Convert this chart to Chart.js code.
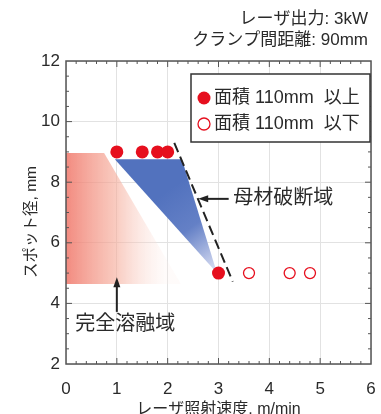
<!DOCTYPE html>
<html>
<head>
<meta charset="utf-8">
<script src="https://cdn.jsdelivr.net/npm/chart.js@4.4.0/dist/chart.umd.min.js"></script>
<style>
  html, body { margin: 0; padding: 0; background: #fff; }
  #wrap { width: 381px; height: 414px; }
</style>
</head>
<body>
<div id="wrap"><canvas id="chart"></canvas></div>
<script>
var titleLines = ['レーザ出力: 3kW', 'クランプ間距離: 90mm'];
var xTitle = 'レーザ照射速度, m/min';
var yTitle = 'スポット径, mm';
var xTicks = [0, 1, 2, 3, 4, 5, 6];
var yTicks = [2, 4, 6, 8, 10, 12];

// welded spots, joint area 110mm2 or more / less
var aboveX = [1.0, 1.5, 1.8, 2.0, 3.0];
var aboveY = [9, 9, 9, 9, 5];
var belowX = [3.6, 4.4, 4.8];
var belowY = [5, 5, 5];
var legendLabels = ['面積 110mm  以上', '面積 110mm  以下'];

// boundary of base metal fracture (dashed)
var limitX = [2.13, 3.28];
var limitY = [9.3, 4.72];

// shaded zones
var meltX = [0, 0.75, 2.26, 0];
var meltY = [8.96, 8.96, 4.64, 4.64];
var fractureX = [0.96, 2.28, 2.97];
var fractureY = [8.76, 8.76, 5.0];
var zoneLabels = ['母材破断域', '完全溶融域'];

var RED = '#e60f1e';
var INK = '#2a2a2a';
var FONT = "'Liberation Sans', 'Noto Sans CJK JP', sans-serif";

function pts(xs, ys) {
  return xs.map(function (x, i) { return { x: x, y: ys[i] }; });
}

function arrow(ctx, x1, y1, x2, y2) {
  // line from (x1,y1) with head at (x2,y2)
  var a = Math.atan2(y2 - y1, x2 - x1);
  ctx.beginPath();
  ctx.moveTo(x1, y1);
  ctx.lineTo(x2 - 6 * Math.cos(a), y2 - 6 * Math.sin(a));
  ctx.stroke();
  ctx.beginPath();
  ctx.moveTo(x2, y2);
  ctx.lineTo(x2 - 10 * Math.cos(a) + 3.5 * Math.sin(a), y2 - 10 * Math.sin(a) - 3.5 * Math.cos(a));
  ctx.lineTo(x2 - 10 * Math.cos(a) - 3.5 * Math.sin(a), y2 - 10 * Math.sin(a) + 3.5 * Math.cos(a));
  ctx.closePath();
  ctx.fill();
}

var decor = {
  id: 'decor',
  beforeDatasetsDraw: function (chart) {
    var ctx = chart.ctx, sx = chart.scales.x, sy = chart.scales.y;
    ctx.save();
    // red zone (full melt)
    var g = ctx.createLinearGradient(sx.getPixelForValue(0), 0, sx.getPixelForValue(1.95), 0);
    g.addColorStop(0, 'rgba(240,118,105,0.85)');
    g.addColorStop(0.5, 'rgba(245,170,152,0.62)');
    g.addColorStop(1, 'rgba(252,235,230,0.2)');
    ctx.fillStyle = g;
    ctx.beginPath();
    meltX.forEach(function (x, i) {
      ctx[i ? 'lineTo' : 'moveTo'](sx.getPixelForValue(x), sy.getPixelForValue(meltY[i]));
    });
    ctx.closePath();
    ctx.fill();
    // blue zone (base metal fracture)
    var b = ctx.createLinearGradient(sx.getPixelForValue(1.9), sy.getPixelForValue(7.6),
                                     sx.getPixelForValue(3.0), sy.getPixelForValue(5.0));
    b.addColorStop(0, 'rgba(82,114,190,1)');
    b.addColorStop(0.45, 'rgba(100,128,198,1)');
    b.addColorStop(1, 'rgba(226,229,246,1)');
    ctx.fillStyle = b;
    ctx.beginPath();
    fractureX.forEach(function (x, i) {
      ctx[i ? 'lineTo' : 'moveTo'](sx.getPixelForValue(x), sy.getPixelForValue(fractureY[i]));
    });
    ctx.closePath();
    ctx.fill();
    ctx.restore();
  },
  afterDraw: function (chart) {
    var ctx = chart.ctx, sx = chart.scales.x, sy = chart.scales.y, a = chart.chartArea;
    ctx.save();
    // frame and inward ticks
    ctx.strokeStyle = '#555';
    ctx.lineWidth = 1.5;
    ctx.strokeRect(a.left, a.top, a.right - a.left, a.bottom - a.top);
    ctx.lineWidth = 1;
    ctx.beginPath();
    for (var i = 1; i < 30; i++) {
      var px = sx.getPixelForValue(i / 5), len = i % 5 ? 3 : 6;
      ctx.moveTo(px, a.bottom); ctx.lineTo(px, a.bottom - len);
      ctx.moveTo(px, a.top); ctx.lineTo(px, a.top + len);
    }
    for (var j = 1; j < 20; j++) {
      var py = sy.getPixelForValue(2 + j / 2), l2 = j % 4 ? 3 : 6;
      ctx.moveTo(a.left, py); ctx.lineTo(a.left + l2, py);
      ctx.moveTo(a.right, py); ctx.lineTo(a.right - l2, py);
    }
    ctx.stroke();

    // header
    ctx.fillStyle = INK;
    ctx.font = '17px ' + FONT;
    ctx.textAlign = 'right';
    ctx.textBaseline = 'middle';
    ctx.fillText(titleLines[0], 368, 19);
    ctx.fillText(titleLines[1], 368, 40);

    // axis titles
    ctx.textAlign = 'center';
    ctx.font = '16px ' + FONT;
    ctx.fillText(xTitle, (a.left + a.right) / 2, 410);
    ctx.save();
    ctx.translate(32, 222);
    ctx.rotate(-Math.PI / 2);
    ctx.font = '15.5px ' + FONT;
    ctx.fillText(yTitle, 0, 0);
    ctx.restore();

    // legend
    ctx.strokeStyle = '#333';
    ctx.lineWidth = 1.5;
    ctx.fillStyle = '#fff';
    ctx.fillRect(191, 74, 179, 68);
    ctx.strokeRect(191, 74, 179, 68);
    ctx.font = '18px ' + FONT;
    ctx.textAlign = 'left';
    ctx.fillStyle = RED;
    ctx.beginPath(); ctx.arc(204, 98, 6.5, 0, Math.PI * 2); ctx.fill();
    ctx.strokeStyle = RED;
    ctx.lineWidth = 1.3;
    ctx.beginPath(); ctx.arc(204, 124, 6, 0, Math.PI * 2); ctx.stroke();
    ctx.fillStyle = INK;
    ctx.fillText(legendLabels[0], 214, 98);
    ctx.fillText(legendLabels[1], 214, 124);

    // zone labels with arrows
    ctx.fillStyle = '#222';
    ctx.strokeStyle = '#222';
    ctx.lineWidth = 2;
    arrow(ctx, sx.getPixelForValue(3.2), sy.getPixelForValue(7.45),
               sx.getPixelForValue(2.6), sy.getPixelForValue(7.45));
    arrow(ctx, sx.getPixelForValue(1.0), sy.getPixelForValue(3.72),
               sx.getPixelForValue(1.0), sy.getPixelForValue(4.86));
    ctx.fillStyle = INK;
    ctx.font = '20px ' + FONT;
    ctx.fillText(zoneLabels[0], sx.getPixelForValue(3.29), sy.getPixelForValue(7.45));
    ctx.fillText(zoneLabels[1], sx.getPixelForValue(0.18), sy.getPixelForValue(3.29));
    ctx.restore();
  }
};

var ctx = document.getElementById('chart').getContext('2d');
var chart = new Chart(ctx, {
  type: 'scatter',
  data: {
    datasets: [{
      label: legendLabels[0],
      data: pts(aboveX, aboveY),
      pointRadius: 6.5,
      pointBackgroundColor: RED,
      pointBorderColor: RED,
      pointBorderWidth: 0
    }, {
      label: legendLabels[1],
      data: pts(belowX, belowY),
      pointRadius: 5.5,
      pointBackgroundColor: 'rgba(0,0,0,0)',
      pointBorderColor: RED,
      pointBorderWidth: 1.3
    }, {
      label: 'limit',
      type: 'line',
      data: pts(limitX, limitY),
      borderColor: '#222',
      borderWidth: 2,
      borderDash: [10, 5],
      pointRadius: 0,
      fill: false
    }]
  },
  options: {
    responsive: true,
    maintainAspectRatio: false,
    animation: false,
    layout: { padding: { top: 61, right: 10, left: 0, bottom: 0 } },
    plugins: {
      legend: { display: false },
      tooltip: { enabled: false },
      title: { display: false }
    },
    scales: {
      x: {
        type: 'linear',
        min: 0,
        max: 6,
        afterBuildTicks: function (s) { s.ticks = xTicks.map(function (v) { return { value: v }; }); },
        afterFit: function (s) { s.height = 50; s.paddingLeft = 0; s.paddingRight = 0; },
        grid: { color: '#e2e2e2', drawTicks: false },
        border: { display: false },
        ticks: { color: INK, padding: 15, font: { family: FONT, size: 17 } }
      },
      y: {
        type: 'linear',
        min: 2,
        max: 12,
        afterBuildTicks: function (s) { s.ticks = yTicks.map(function (v) { return { value: v }; }); },
        afterFit: function (s) { s.width = 66; },
        grid: { color: '#e2e2e2', drawTicks: false },
        border: { display: false },
        ticks: { color: INK, padding: 6, font: { family: FONT, size: 17 } }
      }
    }
  },
  plugins: [decor]
});
</script>
</body>
</html>
